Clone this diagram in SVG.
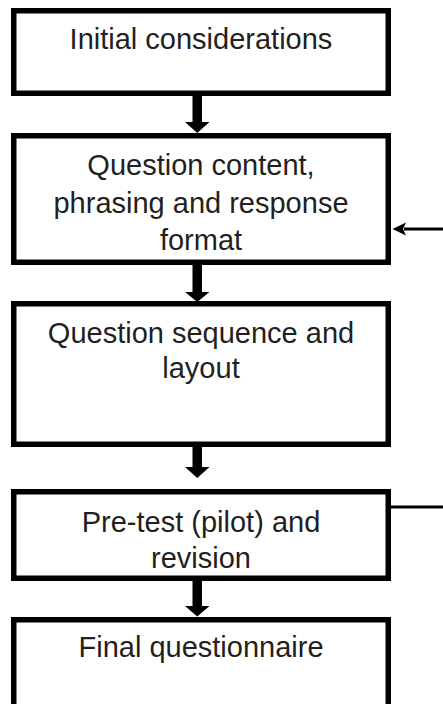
<svg xmlns="http://www.w3.org/2000/svg" width="443" height="704" viewBox="0 0 443 704">
<style>
.box{fill:#fff;stroke:#000;stroke-width:5.5}
.t{font-family:"Liberation Sans",Arial,sans-serif;font-size:29px;fill:#231f20;text-anchor:middle}
.ln{stroke:#000;stroke-width:3;fill:none}
</style>
<rect width="443" height="704" fill="#fff"/>
<g id="n1"><rect class="box" x="13.75" y="10.75" width="374.5" height="82.5"/><text class="t" x="201" y="49">Initial considerations</text></g>
<g id="n2"><rect class="box" x="13.75" y="135.75" width="374.5" height="126.5"/><text class="t" x="201" y="175">Question content,</text><text class="t" x="201" y="212.5">phrasing and response</text><text class="t" x="201" y="250">format</text></g>
<g id="n3"><rect class="box" x="13.75" y="303.75" width="374.5" height="140.5"/><text class="t" x="201" y="343">Question sequence and</text><text class="t" x="201" y="378">layout</text></g>
<g id="n4"><rect class="box" x="13.75" y="491.75" width="374.5" height="86.5"/><text class="t" x="201" y="532">Pre-test (pilot) and</text><text class="t" x="201" y="568">revision</text></g>
<g id="n5"><rect class="box" x="13.75" y="619.75" width="374.5" height="110"/><text class="t" x="201" y="657">Final questionnaire</text></g>
<g id="connectors">
<polygon points="192.5,96 202,96 202,122 209.5,122 197.25,133 185,122 192.5,122"/>
<polygon points="192.5,264 202,264 202,292 209.5,292 197.25,302 185,292 192.5,292"/>
<polygon points="192.5,447 202,447 202,467 209.5,467 197.25,478 185,467 192.5,467"/>
<polygon points="192.5,581 202,581 202,606 209.5,606 197.25,616.5 185,606 192.5,606"/>
<line class="ln" x1="443" y1="229" x2="404" y2="229"/>
<polygon points="392.5,229 406,222.5 403,229 406,235.5"/>
<line class="ln" x1="391" y1="507" x2="443" y2="507" stroke-width="3.5"/>
</g>
</svg>
